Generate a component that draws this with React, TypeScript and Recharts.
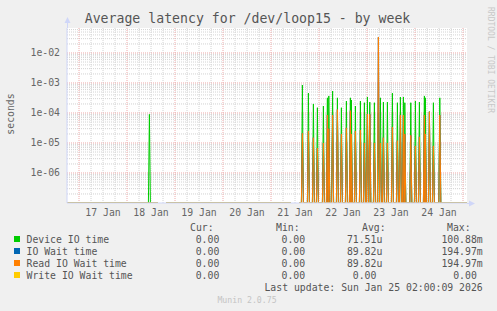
import { LineChart, Line, XAxis, YAxis, CartesianGrid, ReferenceLine } from 'recharts';

// spike times, hours since 16 Jan 00:00
const spikeHours = [
    59.2, 135.7, 138.7, 141.2, 143.2, 146.2, 148.2, 148.9, 150.8, 153.2,
    155.2, 157.7, 159.7, 160.2, 162.2, 164.7, 166.7, 168.2, 169.4, 171.7,
    173.7, 174.7, 176.2, 178.2, 180.7, 183.2, 184.7, 186.2, 186.9, 189.9,
    192.2, 194.2, 196.7, 197.2, 199.2, 201.2, 204.4,
];
const deviceIOTime = [
    9e-5, 8.5e-4, 4.6e-4, 2.0e-4, 1.5e-4, 1.7e-4, 3.2e-4, 3.7e-4, 5.4e-4, 3.2e-4,
    1.5e-4, 2.5e-4, 3.2e-4, 2.7e-4, 1.7e-4, 2.5e-4, 2.2e-4, 3.4e-4, 2.3e-4, 2.2e-4,
    1.0e-4, 3.2e-4, 2.3e-4, 2.3e-4, 4.6e-4, 2.2e-4, 3.4e-4, 3.4e-4, 2.2e-4, 2.2e-4,
    2.5e-4, 2.3e-4, 3.7e-4, 3.2e-4, 1.1e-4, 2.2e-4, 3.2e-4,
];
const readIOWaitTime = [
    0, 2.1e-5, 2.5e-5, 1.5e-5, 6.8e-6, 1.0e-5, 8.5e-5, 3.0e-5, 8.5e-5, 1.3e-4,
    2.0e-5, 3.2e-5, 1.2e-4, 2.0e-5, 2.5e-5, 2.7e-5, 1.0e-5, 9.3e-5, 9.0e-5, 1.0e-5,
    3.4e-2, 1.0e-5, 1.5e-5, 1.0e-5, 3.4e-5, 1.2e-5, 8.5e-5, 8.5e-5, 2.0e-5, 1.8e-5,
    8.0e-6, 1.6e-5, 8.5e-5, 2.0e-5, 1.1e-4, 8.0e-6, 8.5e-5,
];
// IO wait equals read wait here (same avg/max)
const ioWaitTime = readIOWaitTime;
const writeIOWaitTime = spikeHours.map(() => 0);

// periods with no data
const gaps = [[63.5, 67.5], [130, 134]];

const dayTicks = [36, 60, 84, 108, 132, 156, 180, 204];
const dayLabels = ['17 Jan', '18 Jan', '19 Jan', '20 Jan', '21 Jan', '22 Jan', '23 Jan', '24 Jan'];
const yTicks = [1e-6, 1e-5, 1e-4, 1e-3, 1e-2];
const yLabels = ['1e-06', '1e-05', '1e-04', '1e-03', '1e-02'];

const legendRows = [
    { name: 'Device IO time', color: '#00cc00', cur: '0.00', min: '0.00', avg: '71.51u', max: '100.88m' },
    { name: 'IO Wait time', color: '#0066b3', cur: '0.00', min: '0.00', avg: '89.82u', max: '194.97m' },
    { name: 'Read IO Wait time', color: '#ff8000', cur: '0.00', min: '0.00', avg: '89.82u', max: '194.97m' },
    { name: 'Write IO Wait time', color: '#ffcc00', cur: '0.00', min: '0.00', avg: '0.00', max: '0.00' },
];

const T0 = 18;
const T1 = 218;
const FLOOR = 1e-7;
const YMAX = 0.068;
const W = 0.5; // 30 min step of the week rra

const lift = (v: number) => (v > 0 ? v : FLOOR);
const flat = (t: number) => ({ t, device: FLOOR, iowait: FLOOR, read: FLOOR, write: FLOOR });
const empty = (t: number) => ({ t, device: null, iowait: null, read: null, write: null });

const rows: any[] = [flat(T0), flat(T1)];
spikeHours.forEach((h, i) => {
    rows.push(flat(h - W));
    rows.push({
        t: h,
        device: lift(deviceIOTime[i]),
        iowait: lift(ioWaitTime[i]),
        read: lift(readIOWaitTime[i]),
        write: lift(writeIOWaitTime[i]),
    });
    rows.push(flat(h + W));
});
gaps.forEach(([a, b]) => {
    rows.push(flat(a - 0.01), empty(a), empty(b), flat(b + 0.01));
});
rows.sort((p, q) => p.t - q.t);

const minorY: number[] = [];
for (let e = -7; e <= -2; e++) {
    for (let m = 2; m <= 9; m++) {
        const v = m * Math.pow(10, e);
        if (v < YMAX) minorY.push(v);
    }
}
const majorY = yTicks;
const minorX: number[] = [];
for (let t = 24; t < T1; t += 6) if (t % 24 !== 0) minorX.push(t);
const majorX: number[] = [];
for (let t = 24; t < T1; t += 24) majorX.push(t);

const FONT = 'DejaVu Sans Mono, monospace';
const CH = 5.9;
const minorColor = '#d2d2d2';
const majorColor = '#eeaaaa';
const axisColor = '#cfd6f8';

const valueEnd = (s: string, end: number) => (/[a-z]$/.test(s) ? end : end - CH);

export default function App() {
    return (
        <div style={{ position: 'absolute', left: 0, top: 0, width: 497, height: 311, background: '#f0f0f0', overflow: 'hidden' }}>
            <LineChart
                width={497}
                height={311}
                data={rows}
                margin={{ top: 28, right: 30, bottom: 88, left: 0 }}
                style={{ position: 'absolute', left: 0, top: 0 }}
            >
                <CartesianGrid horizontal={false} vertical={false} fill="#ffffff" />
                {minorY.map(v => (
                    <ReferenceLine key={'my' + v} y={v} stroke={minorColor} strokeDasharray="1 1" ifOverflow="hidden" />
                ))}
                {minorX.map(v => (
                    <ReferenceLine key={'mx' + v} x={v} stroke={minorColor} strokeDasharray="1 1" ifOverflow="hidden" />
                ))}
                {majorY.map(v => (
                    <ReferenceLine key={'My' + v} y={v} stroke={majorColor} strokeDasharray="1 1" ifOverflow="hidden" />
                ))}
                {majorX.map(v => (
                    <ReferenceLine key={'Mx' + v} x={v} stroke={majorColor} strokeDasharray="1 1" ifOverflow="hidden" />
                ))}
                <XAxis
                    dataKey="t"
                    type="number"
                    domain={[T0, T1]}
                    allowDataOverflow
                    ticks={dayTicks}
                    tickFormatter={(v: number) => dayLabels[dayTicks.indexOf(v)] ?? ''}
                    tickLine={false}
                    tickSize={0}
                    tickMargin={6}
                    height={20}
                    axisLine={{ stroke: axisColor }}
                    tick={{ fill: '#666666', fontSize: 9.8, fontFamily: FONT }}
                    interval={0}
                />
                <YAxis
                    type="number"
                    scale="log"
                    domain={[FLOOR, YMAX]}
                    allowDataOverflow
                    ticks={yTicks}
                    tickFormatter={(v: number) => yLabels[yTicks.indexOf(v)] ?? ''}
                    tickLine={false}
                    tickSize={0}
                    tickMargin={7}
                    width={67}
                    axisLine={{ stroke: axisColor }}
                    tick={{ fill: '#666666', fontSize: 9.8, fontFamily: FONT }}
                    interval={0}
                />
                <Line dataKey="device" stroke="#00cc00" strokeWidth={1} dot={false} type="linear" isAnimationActive={false} />
                <Line dataKey="iowait" stroke="#0066b3" strokeWidth={1} dot={false} type="linear" isAnimationActive={false} />
                <Line dataKey="read" stroke="#ff8000" strokeWidth={1} dot={false} type="linear" isAnimationActive={false} />
                <Line dataKey="write" stroke="#e6c860" strokeWidth={1} dot={false} type="linear" isAnimationActive={false} />
            </LineChart>
            <svg width={497} height={311} style={{ position: 'absolute', left: 0, top: 0, pointerEvents: 'none' }}>
                {/* axis extensions + arrows */}
                <line x1={67.5} y1={28} x2={67.5} y2={21} stroke={axisColor} />
                <polygon points="64.5,23 70.5,23 67.5,17" fill={axisColor} />
                <line x1={467} y1={203.5} x2={471} y2={203.5} stroke={axisColor} />
                <polygon points="469,200.5 469,206.5 475,203.5" fill={axisColor} />

                <text x={247.5} y={23} textAnchor="middle" fontFamily={FONT} fontSize={13.2} fill="#555555">
                    Average latency for /dev/loop15 - by week
                </text>
                <text x={10} y={114} textAnchor="middle" dominantBaseline="central" transform="rotate(-90 10 114)"
                    fontFamily={FONT} fontSize={9.8} fill="#666666">seconds</text>
                <text x={490} y={60} textAnchor="middle" dominantBaseline="central" transform="rotate(90 490 60)"
                    fontFamily={FONT} fontSize={8} fill="#c8c8c8">RRDTOOL / TOBI OETIKER</text>

                <g fontFamily={FONT} fontSize={9.8} fill="#555555">
                    <text x={190} y={231}>Cur:</text>
                    <text x={276} y={231}>Min:</text>
                    <text x={362} y={231}>Avg:</text>
                    <text x={447} y={231}>Max:</text>
                    {legendRows.map((r, i) => {
                        const y = 243 + i * 12;
                        return (
                            <g key={r.name}>
                                <rect x={14} y={y - 7} width={6} height={6} fill={r.color} />
                                <text x={26.5} y={y}>{r.name}</text>
                                <text x={valueEnd(r.cur, 225.2)} y={y} textAnchor="end">{r.cur}</text>
                                <text x={valueEnd(r.min, 311)} y={y} textAnchor="end">{r.min}</text>
                                <text x={valueEnd(r.avg, 382.3)} y={y} textAnchor="end">{r.avg}</text>
                                <text x={valueEnd(r.max, 482.7)} y={y} textAnchor="end">{r.max}</text>
                            </g>
                        );
                    })}
                    <text x={482.7} y={291} textAnchor="end">Last update: Sun Jan 25 02:00:09 2026</text>
                </g>
                <text x={247} y={303} textAnchor="middle" fontFamily={FONT} fontSize={8.2} fill="#c4c4c4">Munin 2.0.75</text>
            </svg>
        </div>
    );
}
